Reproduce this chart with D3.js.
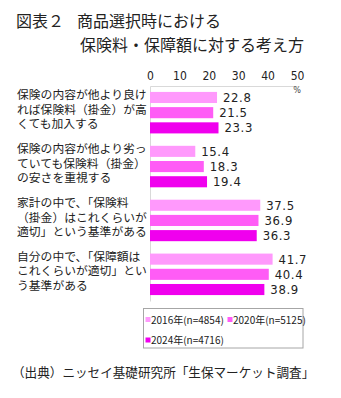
<!DOCTYPE html>
<html><head><meta charset="utf-8">
<script src="https://cdn.jsdelivr.net/npm/d3@7"></script>
<style>
html,body{margin:0;padding:0;background:#fff;}
svg{display:block;}
</style></head>
<body>
<script>
const categories = [
  "保険の内容が他より良ければ保険料（掛金）が高くても加入する",
  "保険の内容が他より劣っていても保険料（掛金）の安さを重視する",
  "家計の中で、「保険料（掛金）はこれくらいが適切」という基準がある",
  "自分の中で、「保障額はこれくらいが適切」という基準がある"
];
const categoryLines = [
  ["保険の内容が他より良け", "れば保険料（掛金）が高", "くても加入する"],
  ["保険の内容が他より劣っ", "ていても保険料（掛金）", "の安さを重視する"],
  ["家計の中で、「保険料", "（掛金）はこれくらいが", "適切」という基準がある"],
  ["自分の中で、「保障額は", "これくらいが適切」とい", "う基準がある"]
];
const seriesNames = ["2016年(n=4854)", "2020年(n=5125)", "2024年(n=4716)"];
const values2016 = [22.8, 15.4, 37.5, 41.7];
const values2020 = [21.5, 18.3, 36.9, 40.4];
const values2024 = [23.3, 19.4, 36.3, 38.9];
const tickValues = [0, 10, 20, 30, 40, 50];
const colors = ["#ff99fc", "#ff5cf6", "#f000ee"];

const W = 341, H = 398;
const svg = d3.select("body").append("svg").attr("width", W).attr("height", H);
const jp = "'Noto Sans CJK JP', 'Noto Sans', sans-serif";
const narrow = "'Liberation Sans Narrow', 'Arial Narrow', 'DejaVu Sans Condensed', sans-serif";

// Title
svg.append("text").attr("x", 16).attr("y", 27).attr("font-family", jp).attr("font-size", 16).attr("fill", "#222").text("図表２");
svg.append("text").attr("x", 77).attr("y", 27).attr("font-family", jp).attr("font-size", 16).attr("fill", "#222").text("商品選択時における");
svg.append("text").attr("x", 80).attr("y", 51).attr("font-family", jp).attr("font-size", 16).attr("fill", "#222").text("保険料・保障額に対する考え方");

const x = d3.scaleLinear().domain([0, 50]).range([150, 297]);
const y = d3.scaleBand().domain(categories).range([86, 301]).paddingInner(0.23).paddingOuter(0.11);
const ys = d3.scaleBand().domain(seriesNames).range([0, y.bandwidth()]).paddingInner(0.27).paddingOuter(0);

const seriesValues = [values2016, values2020, values2024];

// axis top
const axisTop = d3.axisTop(x).tickValues(tickValues).tickSize(0).tickPadding(6).tickFormat(d3.format("d"));
const gAx = svg.append("g").attr("transform", "translate(0,86)").call(axisTop);
gAx.select(".domain").attr("stroke", "#d9d9d9");
gAx.selectAll("text").attr("font-family", narrow).attr("font-size", 12).attr("fill", "#222");

svg.append("text").attr("x", 297).attr("y", 93).attr("text-anchor", "middle").attr("font-family", narrow).attr("font-size", 9).attr("fill", "#444").text("%");

// left axis line
const gL = svg.append("g").attr("transform", "translate(150,0)").call(d3.axisLeft(y).tickSize(0).tickFormat(""));
gL.select(".domain").attr("stroke", "#d9d9d9");

// bars
categories.forEach((c, ci) => {
  const g = svg.append("g").attr("transform", `translate(0,${y(c)})`);
  seriesNames.forEach((s, si) => {
    const v = seriesValues[si][ci];
    g.append("rect").attr("x", x(0)).attr("y", ys(s)).attr("width", x(v) - x(0)).attr("height", ys.bandwidth()).attr("fill", colors[si]);
    g.append("text").attr("x", x(v) + 6).attr("y", ys(s) + ys.bandwidth() / 2 + 4.5)
      .attr("font-family", narrow).attr("font-size", 13).attr("letter-spacing", 0.6).attr("fill", "#222").text(d3.format(".1f")(v));
  });
  const t = svg.append("text").attr("font-family", jp).attr("font-size", 11.8).attr("fill", "#222");
  categoryLines[ci].forEach((ln, li) => {
    t.append("tspan").attr("x", 17).attr("y", y(c) + 7.5 + li * 14.4).text(ln);
  });
});

// legend
svg.append("rect").attr("x", 143.5).attr("y", 308.5).attr("width", 159.5).attr("height", 39.5).attr("fill", "#fff").attr("stroke", "#a6a6a6");
const legPos = [[145.5, 319.5], [227.5, 319.5], [145.5, 340]];
seriesNames.forEach((s, i) => {
  const [lx, ly] = legPos[i];
  svg.append("rect").attr("x", lx).attr("y", ly - 2.5).attr("width", 5).attr("height", 5).attr("fill", colors[i]);
  svg.append("text").attr("x", lx + 5.5).attr("y", ly + 4).attr("font-family", jp).attr("font-size", 10).attr("fill", "#222").text(s);
});

// source
svg.append("text").attr("x", 12).attr("y", 377).attr("font-family", jp).attr("font-size", 12.6).attr("fill", "#222").text("（出典）ニッセイ基礎研究所「生保マーケット調査」");
</script>
</body></html>
